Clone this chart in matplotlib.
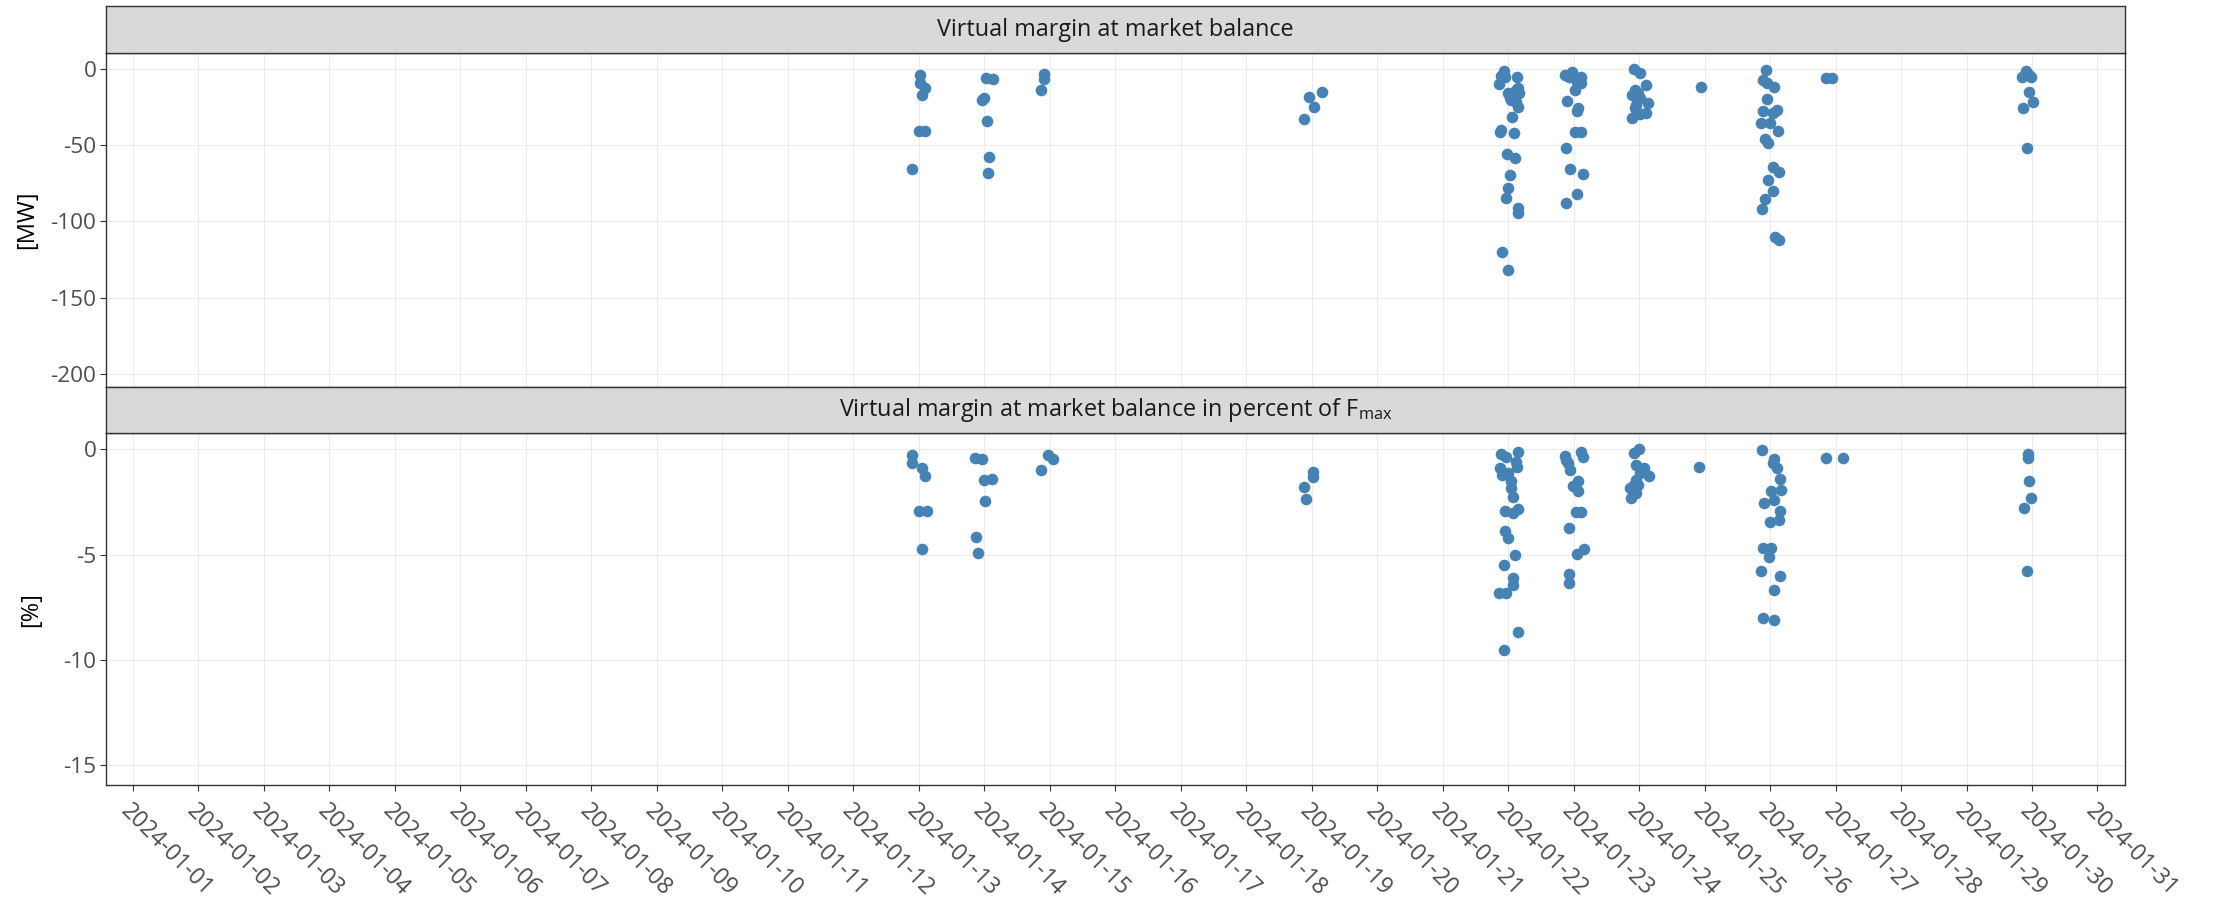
import numpy as np
import pandas as pd
import matplotlib
matplotlib.use("Agg")
import matplotlib.pyplot as plt

plt.rcParams['font.family'] = ['Open Sans', 'DejaVu Sans']
plt.rcParams['mathtext.fontset'] = 'custom'
plt.rcParams['mathtext.rm'] = 'Open Sans'
plt.rcParams['axes.unicode_minus'] = False

# ---------------- data (day of January, fractional; value) ----------------
mw_day = [13.02, 13.02, 13.10, 13.05, 13.01, 13.10, 12.89,
          14.03, 14.13, 13.96, 14.00, 14.04, 14.07, 14.06,
          14.92, 14.92, 14.86,
          19.16, 18.96, 19.04, 18.89,
          21.94, 21.89, 21.86, 22.13, 22.15, 22.00, 22.17, 22.05, 22.15, 22.06,
          21.87, 22.09, 21.89, 21.99, 22.10, 22.03, 22.00, 21.97, 22.15, 22.15,
          21.91, 22.00, 21.95, 22.12, 22.03, 22.12,
          22.87, 22.97, 23.12, 23.05, 23.12, 23.02, 22.90, 23.06, 23.05, 23.02,
          23.11, 22.89, 22.95, 23.15, 23.05, 22.88, 22.93,
          23.93, 24.01, 24.11, 23.94, 23.99, 23.89, 24.01, 24.14, 23.96, 23.94,
          24.10, 24.01, 23.89,
          24.95,
          25.94, 25.89, 25.95, 26.06, 25.96, 25.89, 26.11, 26.04, 25.86, 26.00,
          26.12, 25.92, 25.97, 26.05, 26.13, 25.97, 26.05, 25.92, 25.88, 26.08, 26.13,
          26.86, 26.94,
          29.91, 29.85, 29.99, 29.96, 30.01, 29.87, 29.92, 29.95]
mw_value = [-3.9, -9.0, -12.7, -17.1, -40.7, -40.7, -65.6,
            -5.7, -6.6, -20.3, -19.2, -33.9, -58.0, -68.0,
            -3.5, -6.8, -13.8,
            -14.9, -18.2, -24.7, -32.8,
            -1.3, -4.6, -10.1, -5.5, -12.7, -16.0, -16.0, -20.3, -24.7, -31.3,
            -41.3, -41.8, -40.0, -55.8, -58.2, -69.5, -78.3, -84.9, -91.0, -94.7,
            -120.3, -131.9, -5.0, -13.8, -19.2, -21.4,
            -3.9, -1.7, -5.0, -8.3, -9.4, -13.8, -21.0, -25.8, -27.6, -41.6,
            -41.6, -52.1, -65.4, -68.9, -82.0, -87.7, -5.5,
            0.0, -2.8, -10.5, -13.8, -16.0, -17.1, -19.2, -22.5, -23.6, -25.8,
            -28.6, -29.5, -31.9,
            -12.0,
            -0.7, -7.2, -9.4, -12.0, -19.7, -27.6, -26.9, -29.1, -35.2, -35.2,
            -40.7, -46.1, -48.8, -64.5, -67.4, -72.8, -80.0, -85.5, -92.1, -110.4, -112.2,
            -5.7, -5.7,
            -1.1, -5.5, -5.0, -14.9, -21.4, -25.4, -51.6, -3.9]

pct_day = [12.89, 12.90, 13.05, 13.10, 13.01, 13.12, 13.05,
           13.86, 13.97, 14.00, 14.12, 14.01, 13.87, 13.90,
           14.97, 15.05, 14.86,
           19.02, 19.02, 18.89, 18.91,
           21.89, 22.15, 21.97, 22.12, 21.87, 22.14, 21.90, 22.00, 22.05, 22.05,
           22.08, 21.96, 22.15, 22.07, 21.96, 22.00, 22.10, 21.94, 22.07, 22.08,
           21.86, 21.97, 22.15, 21.94,
           22.87, 22.92, 22.95, 23.12, 23.14, 23.06, 22.99, 23.06, 23.04, 23.12,
           22.93, 23.05, 23.16, 22.93, 22.93, 22.89,
           24.00, 23.93, 23.95, 24.07, 24.01, 24.15, 23.96, 23.93, 23.99, 23.86,
           23.96, 23.87,
           24.92,
           25.88, 26.06, 26.05, 26.11, 26.15, 26.02, 26.16, 26.06, 25.91, 26.15,
           26.13, 26.00, 25.89, 26.01, 25.98, 25.86, 26.15, 26.06, 25.89, 26.06,
           26.86, 27.11,
           29.94, 29.94, 29.95, 29.98, 29.88, 29.92]
pct_value = [-0.27, -0.66, -0.90, -1.25, -2.93, -2.93, -4.75,
             -0.40, -0.46, -1.46, -1.41, -2.44, -4.18, -4.91,
             -0.27, -0.47, -0.98,
             -1.06, -1.33, -1.77, -2.38,
             -0.24, -0.11, -0.38, -0.59, -0.87, -0.82, -1.22, -1.14, -1.49, -1.82,
             -2.25, -2.91, -2.85, -3.04, -3.88, -4.19, -5.00, -5.49, -6.09, -6.44,
             -6.84, -6.84, -8.69, -9.53,
             -0.32, -0.66, -0.98, -0.14, -0.38, -1.50, -1.74, -1.98, -2.99, -2.99,
             -3.75, -4.97, -4.73, -5.92, -6.33, -0.51,
             0.0, -0.19, -0.74, -0.90, -1.14, -1.27, -1.46, -1.69, -1.69, -1.85,
             -2.09, -2.30,
             -0.85,
             -0.03, -0.47, -0.66, -0.90, -1.41, -1.98, -1.93, -2.41, -2.53, -2.93,
             -3.36, -3.43, -4.67, -4.67, -5.13, -5.78, -6.00, -6.68, -7.99, -8.10,
             -0.40, -0.43,
             -0.24, -0.40, -1.50, -2.33, -2.77, -5.76]

panel_titles = ["Virtual margin at market balance",
                r"Virtual margin at market balance in percent of F$_\mathregular{max}$"]
y_titles = ["[MW]", "[%]"]
mw_ticks = [0, -50, -100, -150, -200]
pct_ticks = [0, -5, -10, -15]
x_ticks = pd.date_range("2024-01-01", "2024-01-31", freq="D")
x_ticklabels = [d.strftime("%Y-%m-%d") for d in x_ticks]

# ---------------- helpers ----------------
base = pd.Timestamp("2024-01-01")
def to_time(days):
    return base + pd.to_timedelta(np.asarray(days) - 1.0, unit="D")

W, H = 2213, 910
fig = plt.figure(figsize=(W / 100, H / 100), dpi=100)

def fx(px):
    return px / W
def fy(px):
    return 1 - px / H

left_px, right_px = 106, 2125
panels = [  # strip_top, panel_top, panel_bottom
    (6, 53, 386.7),
    (386.7, 433.3, 785),
]
ylims = [(-208.5, 10.5), (-15.94, 0.76)]
datasets = [(mw_day, mw_value, mw_ticks), (pct_day, pct_value, pct_ticks)]
title_x = [26.7, 31]

grid_col = "#EBEBEB"
border_col = "#333333"
point_col = "#4682B4"
xlim = (base + pd.Timedelta(days=-0.41), base + pd.Timedelta(days=30.42))

axes = []
for i, ((st, pt, pb), (days, vals, yt)) in enumerate(zip(panels, datasets)):
    ax = fig.add_axes([fx(left_px), fy(pb), fx(right_px - left_px), (pb - pt) / H])
    ax.set_facecolor("white")
    ax.scatter(to_time(days), vals, s=70, color=point_col, linewidths=0, zorder=3)
    ax.set_xlim(*xlim)
    ax.set_ylim(*ylims[i])
    ax.set_xticks(x_ticks)
    ax.set_yticks(yt)
    ax.set_yticklabels([str(v) for v in yt])
    ax.grid(True, color=grid_col, linewidth=0.8, zorder=0)
    ax.set_axisbelow(True)
    for sp in ax.spines.values():
        sp.set_color(border_col)
        sp.set_linewidth(1.0)
    ax.tick_params(axis="y", length=4, width=0.8, color=border_col, pad=3,
                   labelsize=16.2, labelcolor="#4D4D4D")
    if i == 0:
        ax.tick_params(axis="x", length=0, labelbottom=False)
    else:
        ax.tick_params(axis="x", length=4.5, width=0.8, color=border_col, pad=6,
                       labelsize=16.6, labelcolor="#4D4D4D")
        ax.set_xticklabels(x_ticklabels, rotation=-45, ha="left", va="top",
                           rotation_mode="anchor")
    ax.set_ylabel(y_titles[i], fontsize=17, color="black")
    ax.yaxis.set_label_coords((title_x[i] - left_px) / (right_px - left_px), 0.5)
    ax.yaxis.label.set_verticalalignment("center")
    # strip
    sax = fig.add_axes([fx(left_px), fy(pt), fx(right_px - left_px), (pt - st) / H])
    sax.set_facecolor("#D9D9D9")
    sax.set_xticks([])
    sax.set_yticks([])
    for sp in sax.spines.values():
        sp.set_color(border_col)
        sp.set_linewidth(1.0)
    sax.text(0.5, 0.5, panel_titles[i], transform=sax.transAxes, ha="center",
             va="center", fontsize=16.8, color="#1A1A1A")
    axes.append(ax)

fig.savefig("out.png", dpi=100)
